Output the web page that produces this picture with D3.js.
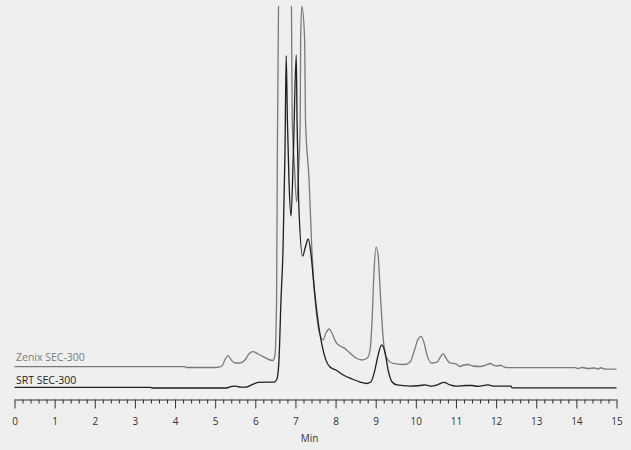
<!DOCTYPE html>
<html>
<head>
<meta charset="utf-8">
<script src="https://cdn.jsdelivr.net/npm/d3@7"></script>
<style>
  html, body { margin: 0; padding: 0; background: #efefef; }
  svg { display: block; font-family: "Open Sans", sans-serif; }
</style>
</head>
<body>
<svg id="chart" width="631" height="450"></svg>
<script>
// retention time (min) and detector response
const srtTime = [0, 3.40, 3.43, 5.27, 5.42, 5.52, 5.62, 5.77, 5.92, 6.07, 6.27, 6.47, 6.54, 6.59, 6.64, 6.69, 6.74, 6.77, 6.80, 6.84, 6.89, 6.95, 7.02, 7.04, 7.08, 7.18, 7.24, 7.32, 7.39, 7.46, 7.56, 7.66, 7.76, 7.86, 8.01, 8.19, 8.41, 8.61, 8.76, 8.88, 8.98, 9.06, 9.15, 9.23, 9.31, 9.41, 9.53, 9.86, 10.1, 10.23, 10.4, 10.55, 10.7, 10.85, 11.0, 11.25, 11.4, 11.55, 11.8, 11.95, 12.37, 12.4, 15]
const srtSignal = [0.18, 0.18, 0, 0, 0.4, 0.5, 0.25, 0.25, 0.9, 1.45, 1.55, 1.55, 2.35, 7.3, 23, 36, 62, 87, 70, 54, 45, 62, 87.2, 70, 49, 34.5, 36.6, 39, 34.8, 27, 17.8, 11.3, 7.3, 5.5, 4.7, 3.4, 2.35, 1.57, 1.18, 1.57, 4.7, 8.6, 11.3, 9.4, 4.7, 1.57, 0.8, 0.5, 0.65, 0.8, 0.5, 0.9, 1.45, 0.8, 0.5, 0.65, 0.65, 0.4, 0.8, 0.5, 0.5, 0.05, 0.05]

const zenixTime = [0, 4.25, 4.27, 5.02, 5.17, 5.24, 5.32, 5.40, 5.50, 5.62, 5.74, 5.84, 5.94, 6.07, 6.22, 6.37, 6.44, 6.49, 6.53, 6.55, 6.58, 6.62, 6.74, 6.85, 6.90, 6.92, 6.98, 7.03, 7.08, 7.12, 7.13, 7.16, 7.23, 7.25, 7.34, 7.41, 7.49, 7.56, 7.64, 7.69, 7.76, 7.84, 7.91, 8.01, 8.11, 8.21, 8.36, 8.51, 8.66, 8.79, 8.86, 8.91, 8.96, 9.01, 9.06, 9.11, 9.19, 9.26, 9.36, 9.51, 9.73, 9.86, 9.95, 10.05, 10.13, 10.2, 10.28, 10.38, 10.53, 10.61, 10.68, 10.75, 10.85, 11.0, 11.1, 11.2, 11.3, 11.42, 11.6, 11.75, 11.85, 11.95, 12.02, 12.1, 12.2, 12.27, 13.97, 14.04, 14.14, 14.29, 14.44, 14.54, 14.61, 14.69, 14.77, 15]
const zenixSignal = [0.08, 0.08, -0.13, -0.13, 0.26, 1.83, 3.0, 1.83, 1.05, 1.05, 1.83, 3.4, 4.0, 3.4, 2.6, 1.83, 1.7, 3.1, 17.5, 57, 96, 170, 210, 150, 96, 65, 51.6, 43.2, 51.6, 64.7, 85.6, 94.5, 85.6, 64.7, 49, 30.6, 17.5, 11, 7.6, 7.1, 8.9, 9.95, 8.9, 6.5, 5.5, 5.0, 3.66, 2.36, 1.83, 2.36, 4.45, 12.3, 25.4, 31.4, 29.3, 20.2, 7.1, 2.6, 1.3, 0.8, 0.65, 1.3, 3.9, 7.1, 8.0, 6.5, 3.1, 1.05, 1.3, 2.6, 3.5, 2.36, 1.05, 0.8, 0.13, 0.52, 0.65, 0.26, 0.13, 0.52, 0.92, 0.4, 0.26, 0.45, 0, -0.18, -0.18, -0.4, -0.13, -0.4, -0.26, -0.52, -0.2, -0.47, -0.57, -0.57]
const zenixOffset = 5.5

const majorTicks = d3.range(0, 16)
const minorTicks = d3.range(0, 75).map(i => i / 5).filter(v => v % 1 !== 0)
const axisTitle = "Min"
const seriesNames = ["Zenix SEC-300", "SRT SEC-300"]

const svg = d3.select("#chart")
const x = d3.scaleLinear().domain([0, 15]).range([14.5, 616.5])
const y = d3.scaleLinear().domain([0, 100]).range([388, 6])

svg.append("defs").append("clipPath").attr("id", "plotClip")
  .append("rect").attr("x", 0).attr("y", 6).attr("width", 631).attr("height", 400)

const line = d3.line()
  .x(d => x(d[0]))
  .y(d => y(d[1]))
  .curve(d3.curveMonotoneX)

const zenix = zenixTime.map((t, i) => [t, zenixSignal[i] + zenixOffset])
const srt = srtTime.map((t, i) => [t, srtSignal[i]])

const plot = svg.append("g").attr("clip-path", "url(#plotClip)")
plot.append("path").attr("d", line(zenix))
  .attr("fill", "none").attr("stroke", "#7a7a7a").attr("stroke-width", 1.3)
plot.append("path").attr("d", line(srt))
  .attr("fill", "none").attr("stroke", "#1e1e1e").attr("stroke-width", 1.3)

// series labels
svg.append("text").attr("x", 16).attr("y", 361)
  .attr("font-size", 10.5).attr("fill", "#7a7a7a").text(seriesNames[0])
svg.append("text").attr("x", 16).attr("y", 383.5)
  .attr("font-size", 10.5).attr("fill", "#1e1e1e").text(seriesNames[1])

// x axis: minor ticks first, then major with labels
const axisY = 399.5
svg.append("g").attr("transform", `translate(0,${axisY})`)
  .call(d3.axisBottom(x).tickValues(minorTicks).tickSize(4).tickSizeOuter(0).tickFormat(""))
  .call(g => g.select(".domain").remove())
  .call(g => g.selectAll("line").attr("stroke", "#333"))

const axis = svg.append("g").attr("transform", `translate(0,${axisY})`)
  .call(d3.axisBottom(x).tickValues(majorTicks).tickSize(9).tickSizeOuter(0).tickPadding(9))
axis.select(".domain").attr("stroke", "#333")
axis.selectAll("line").attr("stroke", "#333")
axis.selectAll("text").attr("font-size", 10).attr("fill", "#333")
  .attr("font-family", "Open Sans, sans-serif")

svg.append("text").attr("x", x(7.35)).attr("y", 442)
  .attr("text-anchor", "middle").attr("font-size", 10).attr("fill", "#333")
  .text(axisTitle)
</script>
</body>
</html>
